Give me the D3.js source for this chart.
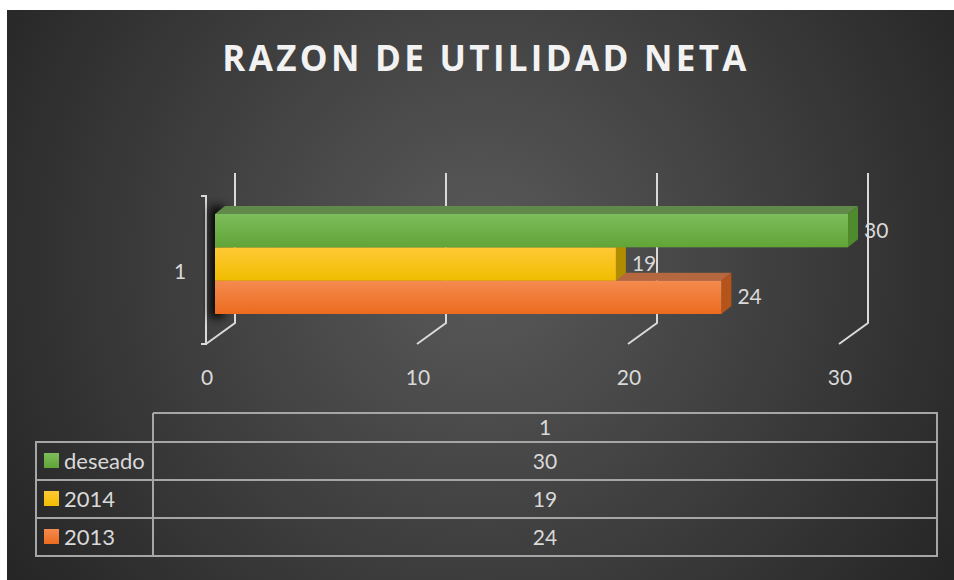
<!DOCTYPE html>
<html><head><meta charset="utf-8">
<script src="https://cdn.jsdelivr.net/npm/d3@7"></script>
<style>html,body{margin:0;padding:0;background:#fff;}svg{display:block;}</style>
</head><body>
<svg id="c" width="954" height="580"></svg>
<script>
const title = "RAZON DE UTILIDAD NETA";
const categories = ["1"];
const seriesNames = ["deseado", "2014", "2013"];
const seriesValues = [30, 19, 24];
const tickValues = [0, 10, 20, 30];
const colorsTop = ["#7dbd5b", "#ffc935", "#f48b4f"];
const colorsBottom = ["#61a437", "#f0bd00", "#ec6b1e"];
const colorsSide = ["#4f8a2c", "#b08c00", "#b5541a"];
const colorsCap = ["#60894a", "#a88a20", "#b5673f"];

const svg = d3.select("#c");
const defs = svg.append("defs");
const rg = defs.append("radialGradient").attr("id","bg").attr("gradientUnits","userSpaceOnUse")
  .attr("cx",480).attr("cy",260).attr("r",560);
rg.append("stop").attr("offset","0").attr("stop-color","#5a5a5a");
rg.append("stop").attr("offset","1").attr("stop-color","#262626");
seriesNames.forEach((s,i)=>{
  const g = defs.append("linearGradient").attr("id","g"+i).attr("x1",0).attr("y1",0).attr("x2",0).attr("y2",1);
  g.append("stop").attr("offset",0).attr("stop-color",colorsTop[i]);
  g.append("stop").attr("offset",1).attr("stop-color",colorsBottom[i]);
});
const f = defs.append("filter").attr("id","blur").attr("x","-50%").attr("y","-50%").attr("width","200%").attr("height","200%");
f.append("feGaussianBlur").attr("stdDeviation",5);

svg.append("rect").attr("x",7).attr("y",10).attr("width",947).attr("height",570).attr("fill","url(#bg)");

svg.append("text").attr("x",486).attr("y",71).attr("text-anchor","middle")
  .attr("font-family","Open Sans").attr("font-weight","bold").attr("font-size",35)
  .attr("letter-spacing",3.3).attr("fill","#f2f2f2").text(title);

// 3D geometry
const frontX0 = 206, backX0 = 235, barX0 = 215;
const backTop = 173, backBottom = 323, frontBottom = 344;
const x = d3.scaleLinear().domain([0,30]).range([0,633]);
const yCat = d3.scaleBand().domain(categories).range([214,314]);
const ySer = d3.scaleBand().domain(seriesNames).range([0, yCat.bandwidth()]);
const capDx = 10, capDy = 8;

const grid = svg.append("g").attr("stroke","#d9d9d9").attr("stroke-width",2).attr("fill","none");
tickValues.forEach(v=>{
  const bx = backX0 + x(v), fx = frontX0 + x(v);
  grid.append("path").attr("d",`M${bx},${backTop}V${backBottom}L${fx},${frontBottom}`);
});
grid.append("path").attr("d",`M${frontX0-5},196H${frontX0}V${frontBottom}H${frontX0-5}`);

// shadow
svg.append("rect").attr("x",barX0-5).attr("y",206).attr("width",14).attr("height",112)
  .attr("fill","#000").attr("opacity",0.9).attr("filter","url(#blur)");

const bars = svg.append("g");
const order = seriesNames.map((s,i)=>i).reverse();
order.forEach(i=>{
  const y0 = yCat(categories[0]) + ySer(seriesNames[i]);
  const h = ySer.bandwidth();
  const x1 = barX0 + x(seriesValues[i]);
  bars.append("path").attr("d",`M${barX0},${y0}L${barX0+capDx},${y0-capDy}L${x1+capDx},${y0-capDy}L${x1},${y0}Z`).attr("fill",colorsCap[i]);
  bars.append("path").attr("d",`M${x1},${y0}L${x1+capDx},${y0-capDy}L${x1+capDx},${y0+h-capDy}L${x1},${y0+h}Z`).attr("fill",colorsSide[i]);
  bars.append("rect").attr("x",barX0).attr("y",y0).attr("width",x(seriesValues[i])).attr("height",h).attr("fill",`url(#g${i})`);
});

const FS = 21;
seriesNames.forEach((s,i)=>{
  const y0 = yCat(categories[0]) + ySer(s);
  svg.append("text").attr("x",barX0 + x(seriesValues[i]) + capDx + 6).attr("y",y0 + ySer.bandwidth()/2 + 7)
    .attr("font-family","Lato").attr("font-size",FS).attr("fill","#d9d9d9").text(seriesValues[i]);
});

svg.append("text").attr("x",180).attr("y",279).attr("text-anchor","middle")
  .attr("font-family","Lato").attr("font-size",FS).attr("fill","#d9d9d9").text(categories[0]);

tickValues.forEach(v=>{
  svg.append("text").attr("x",frontX0 + x(v) + 1).attr("y",385).attr("text-anchor","middle")
    .attr("font-family","Lato").attr("font-size",FS).attr("fill","#d9d9d9").text(v);
});

// data table
const tL = 36, tC = 153, tR = 937;
const rowY = [413, 442, 480, 518, 556];
const tg = svg.append("g").attr("stroke","#a6a6a6").attr("stroke-width",2).attr("fill","none");
tg.append("path").attr("d",`M${tC},${rowY[0]}H${tR}V${rowY[4]}H${tL}V${rowY[1]}H${tR}`);
tg.append("path").attr("d",`M${tC},${rowY[0]}V${rowY[4]}`);
tg.append("path").attr("d",`M${tL},${rowY[2]}H${tR}M${tL},${rowY[3]}H${tR}`);
const midX = (tC+tR)/2;
svg.append("text").attr("x",midX).attr("y",(rowY[0]+rowY[1])/2+7).attr("text-anchor","middle")
  .attr("font-family","Lato").attr("font-size",FS).attr("fill","#d9d9d9").text(categories[0]);
seriesNames.forEach((s,i)=>{
  const cy = (rowY[i+1]+rowY[i+2])/2;
  svg.append("rect").attr("x",44).attr("y",cy-8).attr("width",15).attr("height",15).attr("fill",`url(#g${i})`);
  svg.append("text").attr("x",64).attr("y",cy+8).attr("font-family","Lato").attr("font-size",22).attr("fill","#d9d9d9").text(s);
  svg.append("text").attr("x",midX).attr("y",cy+8).attr("text-anchor","middle")
    .attr("font-family","Lato").attr("font-size",FS).attr("fill","#d9d9d9").text(seriesValues[i]);
});
</script>
</body></html>
